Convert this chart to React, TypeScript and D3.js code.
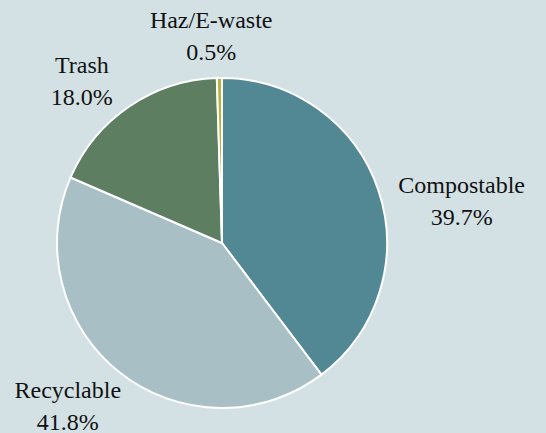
import React from "react";
import * as d3 from "d3";

const categories = ["Compostable", "Recyclable", "Trash", "Haz/E-waste"];
const values = [39.7, 41.8, 18.0, 0.5];
const colors = ["#528794", "#a8c0c5", "#5e7e62", "#b3b533"];
// label nudges relative to the outer centroid (layout only)
const labelNudge: [number, number][] = [
  [69, 15],
  [-43, 21],
  [-39, -13],
  [-8, -27],
];

const W = 546;
const H = 433;
const cx = 222;
const cy = 243;
const R = 165;

export default function App() {
  const pie = d3
    .pie<number>()
    .sort(null)
    .value((d) => d);
  const arcs = pie(values);
  const arc = d3.arc<d3.PieArcDatum<number>>().innerRadius(0).outerRadius(R);
  const labelArc = d3
    .arc<d3.PieArcDatum<number>>()
    .innerRadius(180)
    .outerRadius(180);

  return (
    <svg
      width={W}
      height={H}
      style={{ position: "fixed", left: 0, top: 0 }}
    >
      <rect width={W} height={H} fill="#d3e1e5" />
      <g transform={`translate(${cx},${cy})`}>
        {arcs.map((a, i) => (
          <path
            key={i}
            d={arc(a) || ""}
            fill={colors[i]}
            stroke="#ffffff"
            strokeWidth={2}
            strokeLinejoin="round"
          />
        ))}
        {arcs.map((a, i) => {
          const [x, y] = labelArc.centroid(a);
          const lx = x + labelNudge[i][0];
          const ly = y + labelNudge[i][1];
          return (
            <text
              key={"t" + i}
              x={lx}
              y={ly - 8}
              textAnchor="middle"
              fontFamily="Times New Roman, Times, Tinos, serif"
              fontSize={24}
              fill="#111111"
            >
              <tspan x={lx} y={ly - 8}>
                {categories[i]}
              </tspan>
              <tspan x={lx} y={ly + 24}>
                {values[i].toFixed(1) + "%"}
              </tspan>
            </text>
          );
        })}
      </g>
    </svg>
  );
}
